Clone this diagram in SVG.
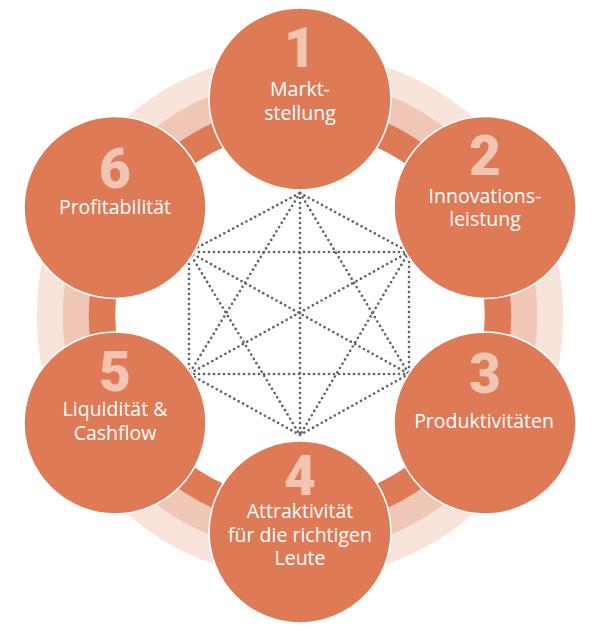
<svg xmlns="http://www.w3.org/2000/svg" width="600" height="632" viewBox="0 0 600 632">
  <style>
    .ring { fill: none; stroke-width: 26.5; }
    .node { fill: #DF7A56; stroke: #FFFFFF; stroke-width: 1.6; }
    .num { font-family: Roboto, "DejaVu Sans", sans-serif; font-weight: 900; font-size: 55px; fill: #F2C4B2; text-anchor: middle; }
    .lbl { font-family: "Open Sans", "Liberation Sans", sans-serif; font-size: 19.5px; fill: #FFFFFF; text-anchor: middle; }
    .dot { fill: none; stroke: #5A646C; stroke-width: 2.7; stroke-linecap: round; stroke-dasharray: 0 5; }
  </style>
  <rect width="600" height="632" fill="#FFFFFF"/>
  <g id="rings">
    <circle class="ring" cx="300" cy="315.5" r="250" stroke="#F8E4DB"/>
    <circle class="ring" cx="300" cy="315.5" r="224" stroke="#F0C6B6"/>
    <circle class="ring" cx="300" cy="315.5" r="198" stroke="#DF7A56"/>
  </g>
  <g id="connectors">
    <line class="dot" x1="300" y1="193" x2="409" y2="252"/>
    <line class="dot" x1="409" y1="252" x2="409" y2="374"/>
    <line class="dot" x1="409" y1="374" x2="300" y2="435"/>
    <line class="dot" x1="300" y1="435" x2="189" y2="374"/>
    <line class="dot" x1="189" y1="374" x2="189" y2="252"/>
    <line class="dot" x1="189" y1="252" x2="300" y2="193"/>
    <line class="dot" x1="300" y1="193" x2="409" y2="374"/>
    <line class="dot" x1="300" y1="193" x2="189" y2="374"/>
    <line class="dot" x1="189" y1="252" x2="409" y2="252"/>
    <line class="dot" x1="189" y1="374" x2="409" y2="374"/>
    <line class="dot" x1="189" y1="252" x2="300" y2="435"/>
    <line class="dot" x1="409" y1="252" x2="300" y2="435"/>
    <line class="dot" x1="300" y1="193" x2="300" y2="435"/>
    <line class="dot" x1="189" y1="252" x2="409" y2="374"/>
    <line class="dot" x1="409" y1="252" x2="189" y2="374"/>
  </g>
  <g id="node1">
    <circle class="node" cx="300" cy="99" r="91"/>
    <text class="num" x="300" y="67">1</text>
    <text class="lbl" x="300" y="96">Markt-</text>
    <text class="lbl" x="300" y="119.5">stellung</text>
  </g>
  <g id="node2">
    <circle class="node" cx="485" cy="207.5" r="91"/>
    <text class="num" x="485" y="175">2</text>
    <text class="lbl" x="485" y="202.5">Innovations-</text>
    <text class="lbl" x="485" y="226">leistung</text>
  </g>
  <g id="node3">
    <circle class="node" cx="485" cy="423" r="91"/>
    <text class="num" x="485" y="393">3</text>
    <text class="lbl" x="484" y="428">Produktivitäten</text>
  </g>
  <g id="node4">
    <circle class="node" cx="300" cy="532" r="91"/>
    <text class="num" x="300" y="495">4</text>
    <text class="lbl" x="300" y="518">Attraktivität</text>
    <text class="lbl" x="300" y="542">für die richtigen</text>
    <text class="lbl" x="300" y="565">Leute</text>
  </g>
  <g id="node5">
    <circle class="node" cx="115" cy="423" r="91"/>
    <text class="num" x="115" y="391">5</text>
    <text class="lbl" x="115" y="416">Liquidität &amp;</text>
    <text class="lbl" x="115" y="440">Cashflow</text>
  </g>
  <g id="node6">
    <circle class="node" cx="115" cy="207.5" r="91"/>
    <text class="num" x="115" y="188">6</text>
    <text class="lbl" x="115" y="214">Profitabilität</text>
  </g>
</svg>
